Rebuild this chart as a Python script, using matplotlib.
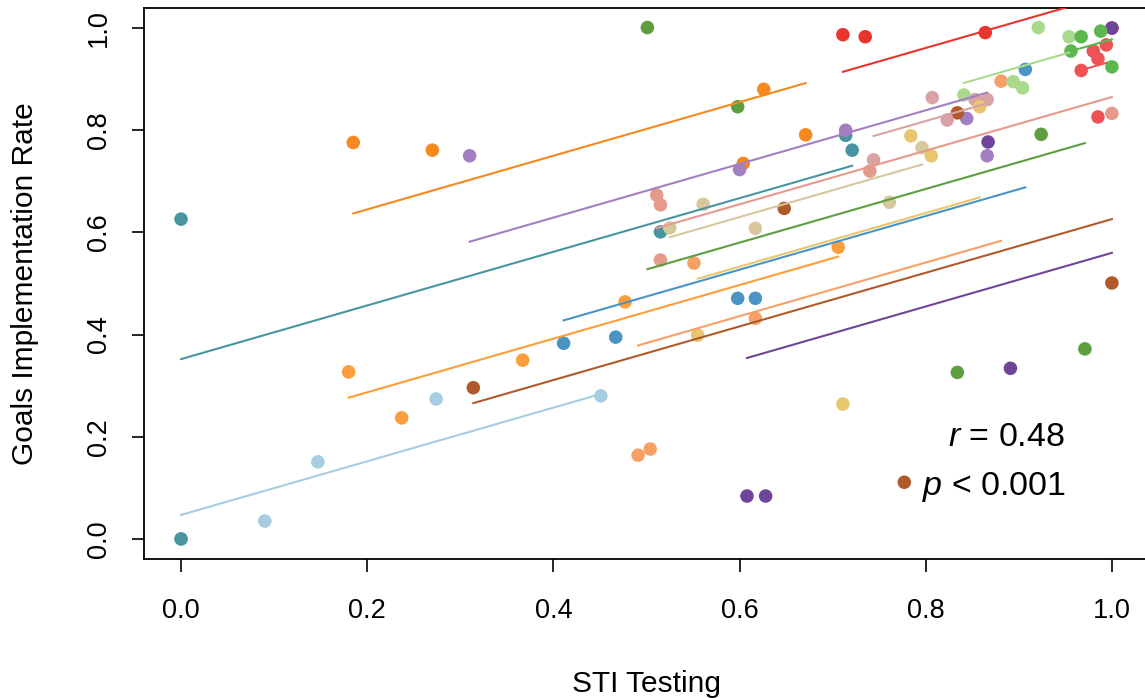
import matplotlib
matplotlib.use("Agg")
import matplotlib.pyplot as plt
import numpy as np

plt.rcParams['font.family'] = ['Liberation Sans', 'DejaVu Sans']
plt.rcParams['mathtext.fontset'] = 'custom'
plt.rcParams['mathtext.it'] = 'Liberation Sans:italic'
plt.rcParams['mathtext.rm'] = 'Liberation Sans'

# one entry per group (points of a site / unit), drawing order kept
colors = ["#a6cde2", "#4795a0", "#f5891f", "#a27fc0", "#fd9e3c", "#b05a2a",
          "#4a94c5", "#f7a066", "#5c9e40", "#d6c79c", "#e69a8c", "#d9a3a5",
          "#e8c66e", "#e8342c", "#6e4598", "#ee5254", "#a9d98b", "#5cb84e"]

x_vals = [
    [0.0, 0.090, 0.147, 0.274, 0.451],
    [0.0, 0.0, 0.515, 0.721, 0.714],
    [0.185, 0.270, 0.626, 0.604, 0.671],
    [0.310, 0.600, 0.714, 0.844, 0.866],
    [0.180, 0.237, 0.367, 0.477, 0.706],
    [0.314, 0.648, 0.834, 1.0, 0.777],
    [0.411, 0.467, 0.598, 0.617, 0.907],
    [0.491, 0.504, 0.551, 0.617, 0.881],
    [0.501, 0.598, 0.834, 0.924, 0.971],
    [0.525, 0.561, 0.617, 0.761, 0.796],
    [0.511, 0.515, 0.515, 0.740, 1.0],
    [0.744, 0.807, 0.823, 0.853, 0.866],
    [0.555, 0.711, 0.784, 0.806, 0.858],
    [0.711, 0.735, 0.864, 1.0],
    [0.608, 0.628, 0.891, 0.867, 1.0],
    [0.967, 0.980, 0.985, 0.994, 0.985],
    [0.841, 0.894, 0.904, 0.921, 0.954],
    [0.956, 0.967, 0.988, 1.0],
]
y_vals = [
    [0.0, 0.035, 0.151, 0.274, 0.280],
    [0.626, 0.0, 0.601, 0.761, 0.790],
    [0.776, 0.761, 0.880, 0.735, 0.791],
    [0.750, 0.723, 0.800, 0.823, 0.750],
    [0.327, 0.237, 0.350, 0.464, 0.571],
    [0.296, 0.647, 0.834, 0.501, 0.111],
    [0.383, 0.395, 0.471, 0.471, 0.919],
    [0.164, 0.176, 0.540, 0.432, 0.896],
    [1.001, 0.846, 0.326, 0.792, 0.372],
    [0.609, 0.655, 0.608, 0.659, 0.766],
    [0.673, 0.654, 0.546, 0.720, 0.833],
    [0.742, 0.864, 0.820, 0.860, 0.860],
    [0.399, 0.264, 0.789, 0.750, 0.846],
    [0.987, 0.983, 0.991, 1.0],
    [0.084, 0.084, 0.334, 0.777, 1.0],
    [0.917, 0.955, 0.940, 0.967, 0.826],
    [0.869, 0.895, 0.883, 1.001, 0.983],
    [0.955, 0.983, 0.994, 0.924],
]
# fitted group intercepts with a common slope
intercepts = [0.047, 0.352, 0.540, 0.419, 0.182, 0.101, 0.212, 0.121, 0.265,
              0.315, 0.340, 0.398, 0.218, 0.541, 0.035, 0.410, 0.451, 0.453]
slope = 0.525

r_text = r"$r$ = 0.48"
p_text = r"$p$ < 0.001"

fig = plt.figure(figsize=(11.45, 6.98), dpi=100)
ax = fig.add_axes([0.1256, 0.1986, 0.878, 0.7905])

for col, xs, ys in zip(colors, x_vals, y_vals):
    ax.scatter(xs, ys, s=95, color=col, edgecolors="none", zorder=2)

for col, xs, a in zip(colors, x_vals, intercepts):
    xl = np.array([min(xs), max(xs)])
    ax.plot(xl, a + slope * xl, color=col, lw=1.5, zorder=3)

ax.set_xlim(-0.04, 1.04)
ax.set_ylim(-0.04, 1.04)
ax.set_xticks([0.0, 0.2, 0.4, 0.6, 0.8, 1.0])
ax.set_yticks([0.0, 0.2, 0.4, 0.6, 0.8, 1.0])
ax.set_xticklabels(["0.0", "0.2", "0.4", "0.6", "0.8", "1.0"])
ax.set_yticklabels(["0.0", "0.2", "0.4", "0.6", "0.8", "1.0"], rotation=90, va="center")
ax.tick_params(direction="out", length=9, width=1.2, labelsize=19.5, pad=14)
ax.tick_params(axis="x", pad=19)
for sp in ax.spines.values():
    sp.set_linewidth(1.3)

ax.set_xlabel("STI Testing", fontsize=21.5, labelpad=33)
ax.set_ylabel("Goals Implementation Rate", fontsize=21.5, labelpad=34)

ax.text(0.824, 0.198, r_text, fontsize=24.5, ha="left", va="center")
ax.text(0.796, 0.102, p_text, fontsize=24.5, ha="left", va="center")

fig.savefig("out.png", dpi=100)
